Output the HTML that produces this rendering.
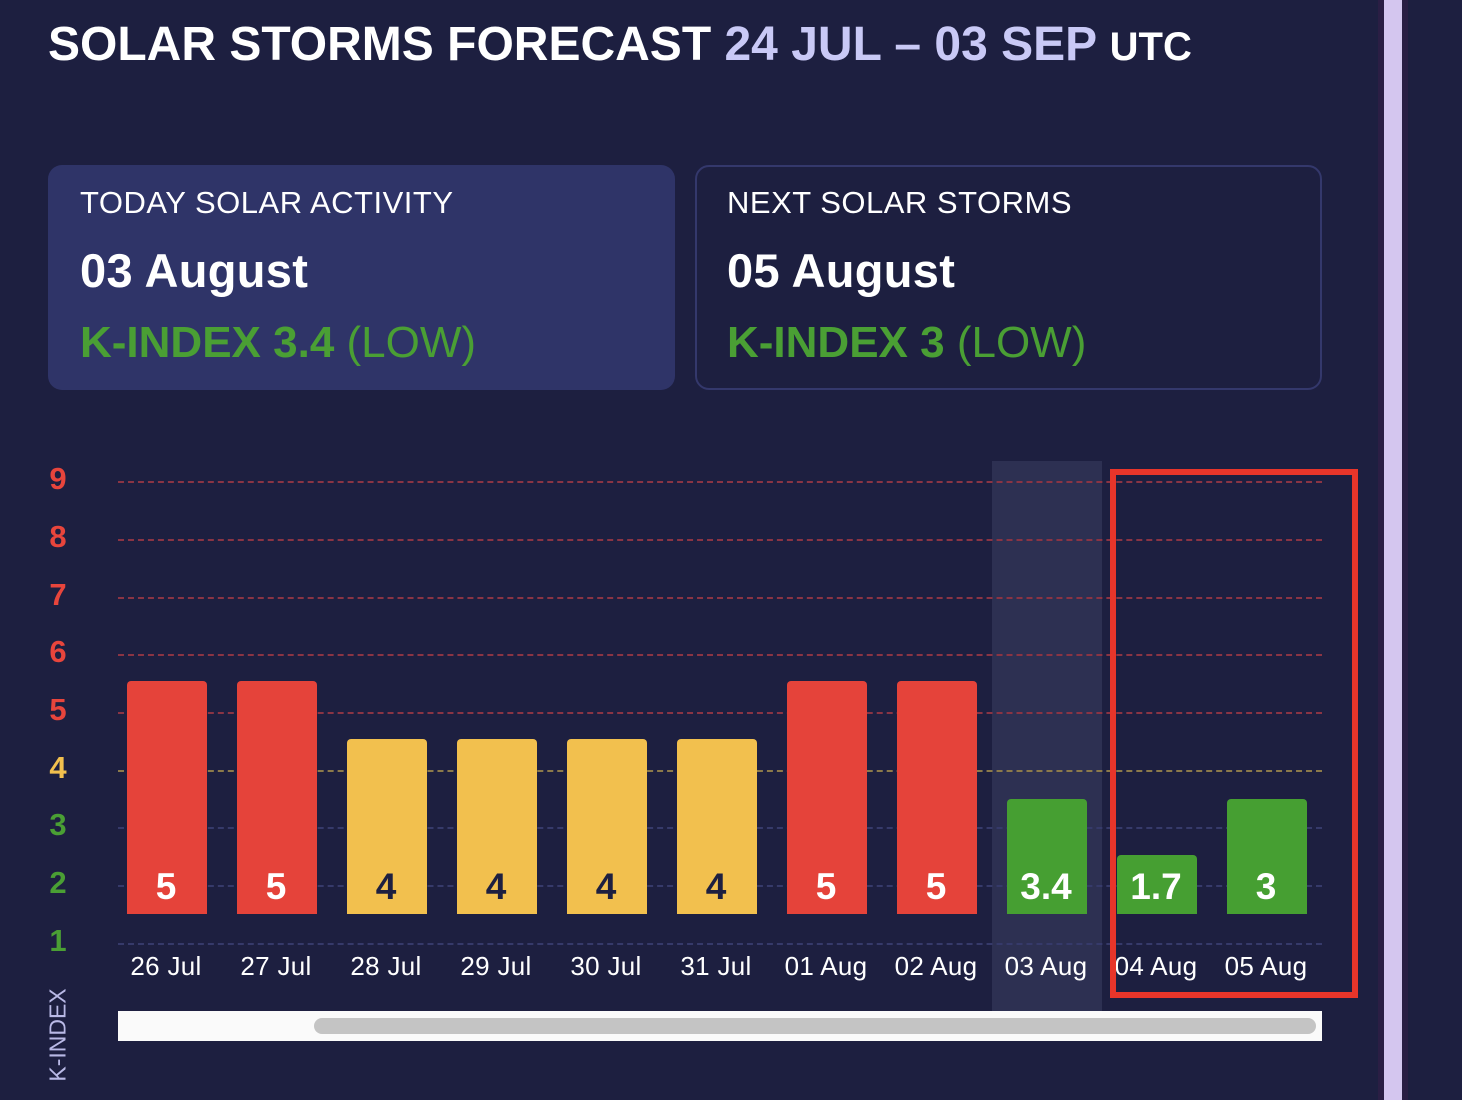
<!DOCTYPE html>
<html><head><meta charset="utf-8"><style>
body{margin:0;width:1462px;height:1100px;background:#1d1f40;position:relative;overflow:hidden;font-family:"Liberation Sans",Arial,sans-serif;color:#fff}
.a{position:absolute}
.title{left:48px;top:17px;font-size:48px;font-weight:bold;white-space:nowrap;letter-spacing:0px}
.card{top:165px;height:225px;width:627px;border-radius:14px;box-sizing:border-box}
.card .l1{position:absolute;left:32px;top:20px;font-size:31px;letter-spacing:0.5px}
.card .l2{position:absolute;left:32px;top:78px;font-size:47px;font-weight:bold;letter-spacing:0.3px}
.card .l3{position:absolute;left:32px;top:153px;font-size:44px;color:#4a9f34;white-space:nowrap}
.grid{left:118px;width:1204px;height:0;border-top:2px dashed}
.yl{left:40px;width:36px;text-align:center;font-size:31px;transform:translateY(-50%);font-weight:bold}
.bar{width:80px;border-radius:4px 4px 0 0;bottom:186px}
.bv{width:80px;text-align:center;font-size:37px;font-weight:bold;top:866px}
.dl{width:110px;text-align:center;font-size:26px;top:951px;letter-spacing:0.3px}
</style></head><body>
<div class="a title">SOLAR STORMS FORECAST <span style="color:#c9c9f6">24 JUL – 03 SEP</span> <span style="font-size:40px">UTC</span></div>

<div class="a card" style="left:48px;background:#2f3468">
<div class="l1">TODAY SOLAR ACTIVITY</div><div class="l2">03 August</div>
<div class="l3"><b>K-INDEX 3.4</b> (LOW)</div></div>
<div class="a card" style="left:695px;border:2px solid #34386c">
<div class="l1" style="left:30px;top:18px">NEXT SOLAR STORMS</div><div class="l2" style="left:30px;top:76px">05 August</div>
<div class="l3" style="left:30px;top:151px"><b>K-INDEX 3</b> (LOW)</div></div>

<div class="a" style="left:992px;top:461px;width:110px;height:550px;background:#2d3052"></div>

<div class="a grid" style="top:481px;border-color:#8a3444"></div>
<div class="a grid" style="top:539px;border-color:#8a3444"></div>
<div class="a grid" style="top:597px;border-color:#8a3444"></div>
<div class="a grid" style="top:654px;border-color:#8a3444"></div>
<div class="a grid" style="top:712px;border-color:#8a3444"></div>
<div class="a grid" style="top:770px;border-color:#8c7a4a"></div>
<div class="a grid" style="top:827px;border-color:#363a6a"></div>
<div class="a grid" style="top:885px;border-color:#363a6a"></div>
<div class="a grid" style="top:943px;border-color:#363a6a"></div>

<div class="a yl" style="top:479px;color:#e8453c">9</div>
<div class="a yl" style="top:537px;color:#e8453c">8</div>
<div class="a yl" style="top:595px;color:#e8453c">7</div>
<div class="a yl" style="top:652px;color:#e8453c">6</div>
<div class="a yl" style="top:710px;color:#e8453c">5</div>
<div class="a yl" style="top:768px;color:#f2c04e">4</div>
<div class="a yl" style="top:825px;color:#4a9f34">3</div>
<div class="a yl" style="top:883px;color:#4a9f34">2</div>
<div class="a yl" style="top:941px;color:#4a9f34">1</div>

<div class="a" style="left:58px;top:1035px;transform:translate(-50%,-50%) rotate(-90deg);font-size:23px;color:#b9b9e6;white-space:nowrap">K-INDEX</div>

<div class="a bar" style="left:127px;height:233px;background:#e5433a"></div>
<div class="a bar" style="left:237px;height:233px;background:#e5433a"></div>
<div class="a bar" style="left:347px;height:175px;background:#f2c04e"></div>
<div class="a bar" style="left:457px;height:175px;background:#f2c04e"></div>
<div class="a bar" style="left:567px;height:175px;background:#f2c04e"></div>
<div class="a bar" style="left:677px;height:175px;background:#f2c04e"></div>
<div class="a bar" style="left:787px;height:233px;background:#e5433a"></div>
<div class="a bar" style="left:897px;height:233px;background:#e5433a"></div>
<div class="a bar" style="left:1007px;height:115px;background:#469f32"></div>
<div class="a bar" style="left:1117px;height:59px;background:#469f32"></div>
<div class="a bar" style="left:1227px;height:115px;background:#469f32"></div>

<div class="a bv" style="left:126px">5</div>
<div class="a bv" style="left:236px">5</div>
<div class="a bv" style="left:346px;color:#1d1f40">4</div>
<div class="a bv" style="left:456px;color:#1d1f40">4</div>
<div class="a bv" style="left:566px;color:#1d1f40">4</div>
<div class="a bv" style="left:676px;color:#1d1f40">4</div>
<div class="a bv" style="left:786px">5</div>
<div class="a bv" style="left:896px">5</div>
<div class="a bv" style="left:1006px">3.4</div>
<div class="a bv" style="left:1116px">1.7</div>
<div class="a bv" style="left:1226px">3</div>

<div class="a dl" style="left:111px">26 Jul</div>
<div class="a dl" style="left:221px">27 Jul</div>
<div class="a dl" style="left:331px">28 Jul</div>
<div class="a dl" style="left:441px">29 Jul</div>
<div class="a dl" style="left:551px">30 Jul</div>
<div class="a dl" style="left:661px">31 Jul</div>
<div class="a dl" style="left:771px">01 Aug</div>
<div class="a dl" style="left:881px">02 Aug</div>
<div class="a dl" style="left:991px">03 Aug</div>
<div class="a dl" style="left:1101px">04 Aug</div>
<div class="a dl" style="left:1211px">05 Aug</div>

<div class="a" style="left:1110px;top:469px;width:248px;height:529px;box-sizing:border-box;border:6px solid #e8352a"></div>

<div class="a" style="left:118px;top:1011px;width:1204px;height:30px;background:#fafafa"></div>
<div class="a" style="left:314px;top:1018px;width:1002px;height:16px;background:#c4c4c4;border-radius:8px"></div>

<div class="a" style="left:1378px;top:0;width:30px;height:1100px;background:#2a1e44"></div>
<div class="a" style="left:1384px;top:0;width:18px;height:1100px;background:#d4c6ef"></div>
</body></html>
